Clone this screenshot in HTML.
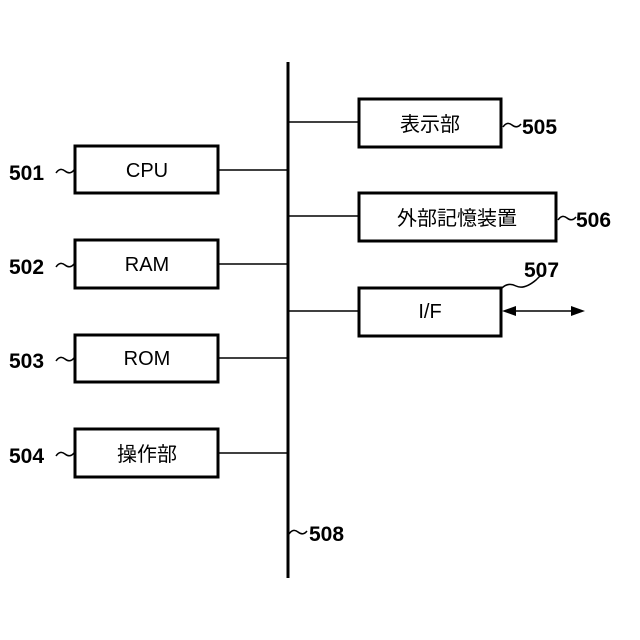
<!DOCTYPE html>
<html><head><meta charset="utf-8"><style>
html,body{margin:0;padding:0;background:#fff}
</style></head><body>
<svg width="640" height="640" xmlns="http://www.w3.org/2000/svg" style="display:block">
<g stroke="#000" fill="none">
<line x1="288" y1="62" x2="288" y2="578" stroke-width="3"/>
<g stroke-width="1.5">
<line x1="218" y1="170" x2="288" y2="170"/>
<line x1="218" y1="264" x2="288" y2="264"/>
<line x1="218" y1="358" x2="288" y2="358"/>
<line x1="218" y1="453" x2="288" y2="453"/>
<line x1="288" y1="122" x2="358" y2="122"/>
<line x1="288" y1="216" x2="358" y2="216"/>
<line x1="288" y1="311" x2="358" y2="311"/>
<line x1="510" y1="311" x2="575" y2="311"/>
</g>
<g stroke-width="3">
<rect x="75" y="146" width="143" height="47"/>
<rect x="75" y="240" width="143" height="48"/>
<rect x="75" y="335" width="143" height="47"/>
<rect x="75" y="429" width="143" height="48"/>
<rect x="359" y="99" width="142" height="48"/>
<rect x="359" y="193" width="197" height="48"/>
<rect x="359" y="288" width="142" height="48"/>
</g>
<g stroke-width="1.5">
<path d="M56 173 q4 -6 9 -2 t9 -1"/>
<path d="M56 267 q4 -6 9 -2 t9 -1"/>
<path d="M56 361 q4 -6 9 -2 t9 -1"/>
<path d="M56 456 q4 -6 9 -2 t9 -1"/>
<path d="M503 127 q4 -6 9 -2 t9 -1"/>
<path d="M558 220 q4 -6 9 -2 t9 -1"/>
<path d="M502 288 q6 -6 14 -2 t20 -6 q2 -2 4 -4"/>
<path d="M289 534 q4 -6 9 -2 t9 -1"/>
</g>
</g>
<polygon points="502,311 516,306 516,316" fill="#000"/>
<polygon points="585,311 571,306 571,316" fill="#000"/>
<g font-family="Liberation Sans, Noto Sans CJK JP, sans-serif" font-size="20" text-anchor="middle" fill="#000">
<text x="147" y="177">CPU</text>
<text x="147" y="271">RAM</text>
<text x="147" y="365">ROM</text>
<text x="147" y="461">操作部</text>
<text x="430" y="131">表示部</text>
<text x="457" y="225">外部記憶装置</text>
<text x="430" y="318">I/F</text>
</g>
<g font-family="Liberation Sans, sans-serif" font-size="21" font-weight="bold" fill="#000">
<text x="9" y="180">501</text>
<text x="9" y="274">502</text>
<text x="9" y="368">503</text>
<text x="9" y="463">504</text>
<text x="522" y="134">505</text>
<text x="576" y="227">506</text>
<text x="524" y="277">507</text>
<text x="309" y="541">508</text>
</g>
</svg>
</body></html>
